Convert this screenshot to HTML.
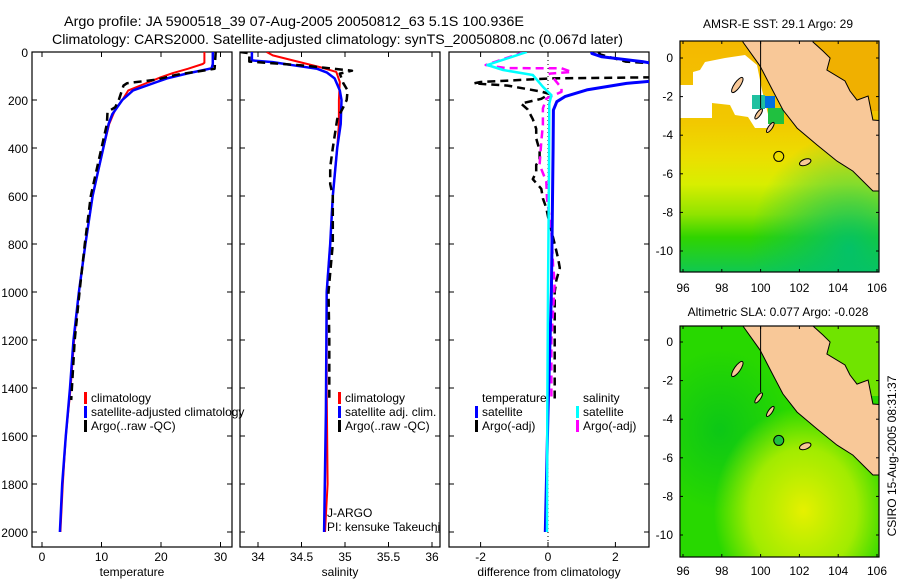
<!DOCTYPE html>
<html><head><meta charset="utf-8"><style>
html,body{margin:0;padding:0;background:#fff;}
svg{display:block;font-family:"Liberation Sans",sans-serif;}
</style></head><body>
<svg id="fig" width="900" height="580" viewBox="0 0 900 580" xmlns="http://www.w3.org/2000/svg">
<text x="64" y="26" font-size="14" textLength="460" lengthAdjust="spacingAndGlyphs">Argo profile: JA 5900518_39 07-Aug-2005 20050812_63 5.1S 100.936E</text>
<text x="52" y="44" font-size="14" textLength="571" lengthAdjust="spacingAndGlyphs">Climatology: CARS2000. Satellite-adjusted climatology: synTS_20050808.nc (0.067d later)</text>
<g id="layer"></g>
</svg>
<script>
// ---- data: depth (dbar) and values ----
const tDepthClim=[0,45,50,70,88,105,125,160,200,240,300,400,500,600,800,1000,1200,1400,1600,1800,2000];
const tClim=[27.3,27.3,27,24.5,22,20,18,14.5,13.5,12.3,11.3,10.3,9.4,8.5,7.3,6.2,5.4,4.8,4.0,3.5,3.1];
const tDepthSat=[0,50,68,90,110,125,160,200,260,300,400,500,600,800,1000,1200,1400,1600,1800,2000];
const tSat=[28.7,28.7,28.5,24.3,21,19.3,15.3,13.5,11.8,11.2,10.3,9.4,8.5,7.3,6.2,5.3,4.7,4.0,3.4,3.0];
const tDepthArgo=[0,70,95,115,130,140,200,230,250,300,400,500,600,800,1000,1200,1450];
const tArgo=[29.2,29,22.6,19.3,14.3,13.7,12.9,12.3,11,10.9,10.0,9.1,8.2,7.2,6.3,5.5,4.9];
const sDepthClim=[0,14,42,63,83,125,200,300,400,600,800,1000,1400,1800,2000];
const sClim=[34.1,34.17,34.48,34.71,34.9,34.94,34.93,34.93,34.91,34.86,34.83,34.79,34.79,34.8,34.77];
const sDepthSat=[0,35,42,55,70,85,110,160,200,300,400,600,800,1000,1500,2000];
const sSat=[33.93,33.93,34.17,34.4,34.68,34.79,34.88,34.94,34.96,34.95,34.91,34.86,34.83,34.79,34.78,34.76];
const sDepthArgo=[0,5,40,55,65,78,90,130,160,200,230,280,400,480,550,600,800,1000,1200,1450];
const sArgo=[33.79,33.9,33.9,34.48,34.75,35.08,34.94,34.98,35.03,35.02,34.98,34.91,34.86,34.83,34.83,34.86,34.86,34.81,34.82,34.82];
const dDepthTSat=[0,6,20,40,54,117,131,158,186,207,242,400,1000,1500,2000];
const dTSat=[1.3,1.3,1.6,2.8,3.4,3.4,2.33,1.15,0.5,0.26,0.16,0.15,0.1,0,-0.08];
const dDepthTArgo=[0,10,40,50,105,110,125,131,140,165,175,195,215,240,280,320,360,410,450,470,500,530,570,610,650,700,800,860,900,950,1000,1200,1450];
const dTArgo=[1.5,1.55,2.3,3.4,3.4,0.1,-2,-2.2,-1.2,-0.2,0.05,-0.2,-0.8,-0.6,-0.45,-0.35,-0.35,-0.25,-0.25,-0.35,-0.35,-0.45,-0.2,-0.15,-0.05,0.02,0.2,0.3,0.35,0.25,0.2,0.2,0.2];
const dDepthSSat=[0,54,75,96,145,180,215,500,1000,1500,2000];
const dSSat=[-0.63,-1.8,-1.33,-0.45,-0.15,0.1,0.04,0.03,0,-0.02,-0.03];
const dDepthSArgo=[0,54,67,68,83,90,150,166,194,235,304,373,470,540,610,750,890,960,1200,1450];
const dSArgo=[-0.7,-1.85,-1.25,0.4,0.7,0.05,0.4,0.4,-0.05,-0.15,-0.15,-0.2,-0.25,-0.05,-0.03,0.1,0.15,0.2,0.1,0.1];
const depthTicks=[0,200,400,600,800,1000,1200,1400,1600,1800,2000];
const tTicks=[0,10,20,30];
const sTicks=[34,34.5,35,35.5,36];
const dTicks=[-2,0,2];
const latTicks=[0,-2,-4,-6,-8,-10];
const lonTicks=[96,98,100,102,104,106];
const coastLon=[99.09,99.09,99.97,100.64,101.15,101.88,102.91,103.94,104.76,105.79,106.4,106.4,105.79,105.54,104.97,104.61,104.35,103.42,103.58,103.22,102.70,102.70];
const coastLat=[1.3,0.83,-0.41,-1.71,-2.69,-3.63,-4.51,-5.34,-5.86,-6.89,-6.89,-3.26,-3.21,-1.97,-2.18,-1.71,-1.19,-0.62,0,0.36,0.83,1.3];
const floatLon=100.936, floatLat=-5.1;

const NS='http://www.w3.org/2000/svg';
const L=document.getElementById('layer');
function mk(tag,attrs,parent){const e=document.createElementNS(NS,tag);for(const k in attrs)e.setAttribute(k,attrs[k]);(parent||L).appendChild(e);return e;}
const yD=d=>52+d*0.24;
const PTOP=52,PBOT=547;
const panels=[
 {name:'temperature',x0:32,x1:232,f:v=>42+v*5.95,ticks:tTicks,label:'temperature'},
 {name:'salinity',x0:240,x1:440,f:v=>258+(v-34)*87,ticks:sTicks,label:'salinity'},
 {name:'difference',x0:449,x1:649,f:v=>548+v*33.7,ticks:dTicks,label:'difference from climatology'}];
const defs=mk('defs',{});
panels.forEach((p,i)=>{
 const cp=mk('clipPath',{id:'cp'+i},defs);mk('rect',{x:p.x0,y:PTOP,width:p.x1-p.x0,height:PBOT-PTOP},cp);
 const fr=mk('rect',{x:p.x0,y:PTOP,width:p.x1-p.x0,height:PBOT-PTOP,fill:'none',stroke:'#000','stroke-width':1.2});
 
 
 depthTicks.forEach(d=>{const y=yD(d);
  mk('line',{x1:p.x0,x2:p.x0+5,y1:y,y2:y,stroke:'#000'});mk('line',{x1:p.x1-5,x2:p.x1,y1:y,y2:y,stroke:'#000'});
  if(i===0){const t=mk('text',{x:28,y:y+5,'font-size':12,'text-anchor':'end'});t.textContent=d;
   
   }
 });
 p.ticks.forEach(v=>{const x=p.f(v);
  mk('line',{x1:x,x2:x,y1:PBOT,y2:PBOT-5,stroke:'#000'});mk('line',{x1:x,x2:x,y1:PTOP,y2:PTOP+5,stroke:'#000'});
  const t=mk('text',{x:x,y:561,'font-size':12,'text-anchor':'middle'});t.textContent=v;
  
  
 });
 const xl=mk('text',{x:(p.x0+p.x1)/2,y:576,'font-size':12,'text-anchor':'middle'});xl.textContent=p.label;
 
 
});
function series(pi,depths,vals,color,w,dash,name){
 const p=panels[pi];
 const pts=depths.map((d,k)=>p.f(vals[k]).toFixed(1)+','+yD(d).toFixed(1)).join(' ');
 const e=mk('polyline',{points:pts,fill:'none',stroke:color,'stroke-width':w,'clip-path':'url(#cp'+pi+')','stroke-linejoin':'round'});
 if(dash)e.setAttribute('stroke-dasharray',dash);
 
 
}
series(0,tDepthClim,tClim,'#f00',2,null,'temperature-climatology-line');
series(0,tDepthSat,tSat,'#00f',2.5,null,'temperature-satellite-line');
series(0,tDepthArgo,tArgo,'#000',2.5,'8,5','temperature-argo-line');
series(1,sDepthClim,sClim,'#f00',2,null,'salinity-climatology-line');
series(1,sDepthSat,sSat,'#00f',2.5,null,'salinity-satellite-line');
series(1,sDepthArgo,sArgo,'#000',2.5,'8,5','salinity-argo-line');
const zl=mk('line',{x1:548,x2:548,y1:PTOP,y2:PBOT,stroke:'#000','stroke-dasharray':'1,3'});


series(2,dDepthTArgo,dTArgo,'#000',2.5,'8,5','diff-temperature-argo-line');
series(2,dDepthSArgo,dSArgo,'#f0f',2.5,'8,5','diff-salinity-argo-line');
series(2,dDepthTSat,dTSat,'#00f',3,null,'diff-temperature-satellite-line');
series(2,dDepthSSat,dSSat,'#0ff',2.5,null,'diff-salinity-satellite-line');
function legend(x,y,color,text,name){
 const g=mk('g',{});
 if(color)mk('rect',{x:x-7,y:y-10,width:3,height:12,fill:color},g);
 const t=mk('text',{x:x,y:y,'font-size':12},g);t.textContent=text;
}
legend(91,402,'#f00','climatology','legend-climatology');
legend(91,416,'#00f','satellite-adjusted climatology','legend-satellite-adjusted');
legend(91,430,'#000','Argo(..raw -QC)','legend-argo');
legend(345,402,'#f00','climatology','legend-sal-climatology');
legend(345,416,'#00f','satellite adj. clim.','legend-sal-satellite');
legend(345,430,'#000','Argo(..raw -QC)','legend-sal-argo');
legend(482,402,null,'temperature','legend-diff-temperature-header');
legend(482,416,'#00f','satellite','legend-diff-temp-satellite');
legend(482,430,'#000','Argo(-adj)','legend-diff-temp-argo');
legend(583,402,null,'salinity','legend-diff-salinity-header');
legend(583,416,'#0ff','satellite','legend-diff-sal-satellite');
legend(583,430,'#f0f','Argo(-adj)','legend-diff-sal-argo');
legend(327,517,null,'J-ARGO','source-label');
legend(327,531,null,'PI: kensuke Takeuchi','pi-label');

// ---- maps ----
const maps=[{name:'sst-map',top:41,lat0:58,title:'AMSR-E SST: 29.1 Argo: 29',ty:28,lab:292},
            {name:'sla-map',top:326,lat0:342,title:'Altimetric SLA: 0.077 Argo: -0.028',ty:316,lab:575}];
const MX0=680,MX1=879,MH=231;
const lonX=lo=>683+(lo-96)*19.4;
let g1=mk('linearGradient',{id:'sstg',x1:0,y1:0,x2:0,y2:1},defs);
[['0','#f4b800'],['0.35','#f2c800'],['0.5','#ecde00'],['0.62','#d8ee00'],['0.75','#90e400'],['0.85','#30d400'],['1','#10c850']].forEach(s=>mk('stop',{offset:s[0],'stop-color':s[1]},g1));
let g2=mk('radialGradient',{id:'sstgr',cx:0.85,cy:0.9,r:0.5},defs);
mk('stop',{offset:0,'stop-color':'#00c070','stop-opacity':0.9},g2);mk('stop',{offset:1,'stop-color':'#00c070','stop-opacity':0},g2);
let g3=mk('radialGradient',{id:'slag',cx:0.62,cy:0.8,r:0.45},defs);
mk('stop',{offset:0,'stop-color':'#e6f000'},g3);mk('stop',{offset:0.6,'stop-color':'#c0f000','stop-opacity':0.8},g3);mk('stop',{offset:1,'stop-color':'#c0f000','stop-opacity':0},g3);
let g4=mk('radialGradient',{id:'slag2',cx:0.2,cy:0.45,r:0.35},defs);
mk('stop',{offset:0,'stop-color':'#00c020','stop-opacity':0.7},g4);mk('stop',{offset:1,'stop-color':'#00c020','stop-opacity':0},g4);
maps.forEach((m,i)=>{
 const latY=la=>m.lat0-la*19.3;
 const cp=mk('clipPath',{id:'mc'+i},defs);mk('rect',{x:MX0,y:m.top,width:MX1-MX0,height:MH},cp);
 const g=mk('g',{'clip-path':'url(#mc'+i+')'});
 
 
 if(i===0){
  mk('rect',{x:MX0,y:m.top,width:MX1-MX0,height:MH,fill:'url(#sstg)'},g);
  mk('rect',{x:MX0,y:m.top,width:MX1-MX0,height:MH,fill:'url(#sstgr)'},g);
  mk('rect',{x:815,y:41,width:64,height:70,fill:'#f0b000'},g);
  mk('polygon',{points:'700,70 705,62 725,58 745,55 757,65 762,90 770,122 773,128 755,128 748,117 735,115 730,105 712,103 712,118 680,118 680,85 693,85 693,72',fill:'#fff'},g);
  mk('rect',{x:752,y:95,width:13,height:14,fill:'#20c0a0'},g);
  mk('rect',{x:765,y:96,width:10,height:12,fill:'#0070e0'},g);
  mk('rect',{x:768,y:108,width:16,height:16,fill:'#20c040'},g);
 } else {
  mk('rect',{x:MX0,y:m.top,width:MX1-MX0,height:MH,fill:'#28d800'},g);
  mk('rect',{x:MX0,y:m.top,width:MX1-MX0,height:MH,fill:'url(#slag2)'},g);
  mk('rect',{x:MX0,y:m.top,width:MX1-MX0,height:MH,fill:'url(#slag)'},g);
  mk('rect',{x:815,y:m.top,width:64,height:70,fill:'#70e400'},g);
 }
 const pts=coastLon.map((lo,k)=>lonX(lo).toFixed(1)+','+latY(coastLat[k]).toFixed(1)).join(' ');
 const land=mk('polygon',{points:pts,fill:'#f8c898',stroke:'#000','stroke-width':1},g);
 
 
 [[98.8,-1.4,9,3,-55],[99.9,-2.9,6,2,-55],[100.5,-3.6,6,2,-55],[102.3,-5.4,6,3,-20]].forEach(a=>{
  mk('ellipse',{cx:lonX(a[0]),cy:latY(a[1]),rx:a[2],ry:a[3],transform:`rotate(${a[4]} ${lonX(a[0])} ${latY(a[1])})`,fill:'#f8c898',stroke:'#000'},g);
 });
 mk('line',{x1:lonX(100),x2:lonX(100),y1:latY(1),y2:latY(-2.6),stroke:'#000'},g);
 const c=mk('circle',{cx:lonX(floatLon),cy:latY(floatLat),r:5,fill:i?'#20c040':'none',stroke:'#000'});
 
 
 const fr=mk('rect',{x:MX0,y:m.top,width:MX1-MX0,height:MH,fill:'none',stroke:'#000','stroke-width':1.2});
 
 
 latTicks.forEach(la=>{const y=latY(la);
  mk('line',{x1:MX0,x2:MX0+3,y1:y,y2:y,stroke:'#000'});mk('line',{x1:MX1-3,x2:MX1,y1:y,y2:y,stroke:'#000'});
  const t=mk('text',{x:673,y:y+4,'font-size':12,'text-anchor':'end'});t.textContent=la;
  
  });
 lonTicks.forEach(lo=>{const x=lonX(lo);
  mk('line',{x1:x,x2:x,y1:m.top+MH,y2:m.top+MH-3,stroke:'#000'});mk('line',{x1:x,x2:x,y1:m.top,y2:m.top+3,stroke:'#000'});
  const t=mk('text',{x:x,y:m.lab,'font-size':12,'text-anchor':'middle'});t.textContent=lo;
  
  });
 const tt=mk('text',{x:778,y:m.ty,'font-size':12,'text-anchor':'middle'});tt.textContent=m.title;
 
 
});
const cs=mk('text',{x:0,y:0,'font-size':12,'text-anchor':'middle',transform:'translate(896,456) rotate(-90)'});
cs.textContent='CSIRO 15-Aug-2005 08:31:37';


</script>
</body></html>
